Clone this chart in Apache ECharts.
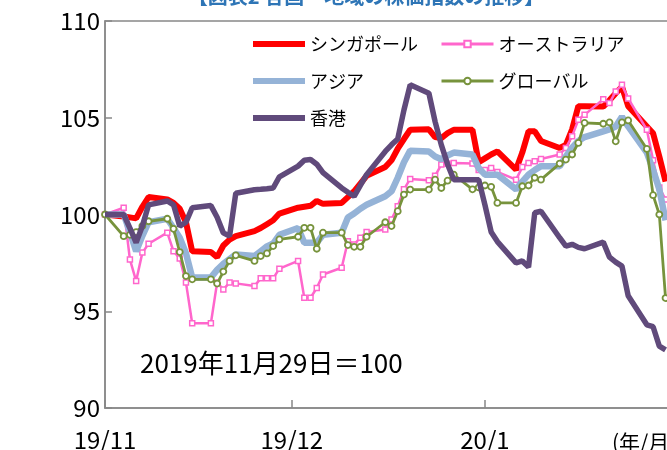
<!DOCTYPE html>
<html>
<head>
<meta charset="utf-8">
<script src="https://cdn.jsdelivr.net/npm/echarts@6/dist/echarts.min.js"></script>
<style>
html,body{margin:0;padding:0;background:#fff;}
#chart{width:667px;height:450px;}
</style>
</head>
<body>
<div id="chart"></div>
<script>
const dates = ['2019-11-29','2019-12-02','2019-12-03','2019-12-04','2019-12-05','2019-12-06','2019-12-09','2019-12-10','2019-12-11','2019-12-12','2019-12-13','2019-12-16','2019-12-17','2019-12-18','2019-12-19','2019-12-20','2019-12-23','2019-12-24','2019-12-25','2019-12-26','2019-12-27','2019-12-30','2019-12-31','2020-01-01','2020-01-02','2020-01-03','2020-01-06','2020-01-07','2020-01-08','2020-01-09','2020-01-10','2020-01-13','2020-01-14','2020-01-15','2020-01-16','2020-01-17','2020-01-20','2020-01-21','2020-01-22','2020-01-23','2020-01-24','2020-01-27','2020-01-28','2020-01-29','2020-01-30','2020-01-31','2020-02-03','2020-02-04','2020-02-05','2020-02-06','2020-02-07','2020-02-10','2020-02-11','2020-02-12','2020-02-13','2020-02-14','2020-02-17','2020-02-18','2020-02-19','2020-02-20','2020-02-21','2020-02-24','2020-02-25','2020-02-26','2020-02-27'];

const singapore = [100,99.9,99.85,99.8,100.4,100.9,100.78,100.6,100.3,99.6,98.1,98.06,97.8,98.4,98.7,98.88,99.14,99.3,99.5,99.7,100.05,100.35,100.4,100.45,100.7,100.55,100.6,100.9,101.2,101.6,102.0,102.45,102.8,103.4,103.9,104.38,104.4,104.0,103.95,104.2,104.38,104.38,102.7,102.9,103.1,103.26,102.32,103.2,104.3,104.3,103.8,103.44,103.6,104.4,105.6,105.6,105.58,105.9,106.27,106.6,105.6,104.55,104.2,103.0,101.7];

const australia = [100,100.35,97.68,96.56,98.03,98.49,99.06,98.1,97.73,96.48,94.38,94.38,96.48,96.13,96.48,96.44,96.3,96.7,96.7,96.7,97.2,97.6,95.7,95.7,96.2,96.9,97.25,98.62,98.45,98.8,99.09,99.23,99.74,100.43,101.3,101.84,101.77,102.0,102.58,102.62,102.66,102.63,102.3,102.3,102.4,102.2,101.8,102.45,102.66,102.75,102.87,103.1,103.44,104.05,104.9,105.15,105.96,105.76,106.36,106.7,106.0,104.38,102.8,101.4,100.77];

const asia = [100,100.0,99.1,98.1,98.9,99.6,99.78,99.3,98.8,98.0,96.74,96.74,97.14,97.45,97.7,97.94,97.85,98.1,98.35,98.5,98.95,99.3,98.54,98.54,98.54,98.95,99.06,99.85,100.05,100.3,100.5,100.94,101.2,101.9,102.7,103.3,103.26,103.0,102.86,103.05,103.2,103.1,102.4,102.06,102.06,102.06,101.3,101.7,102.06,102.3,102.5,102.49,103.0,103.45,103.8,104.0,104.3,104.4,104.55,105.05,104.55,103.2,102.3,101.3,99.7];

const globalIdx = [100,98.88,98.95,99.09,99.4,99.65,99.78,99.26,98.06,96.82,96.65,96.65,96.43,97.05,97.6,97.89,97.6,97.85,97.99,98.37,98.71,98.85,99.31,99.31,98.23,99.06,99.06,98.42,98.33,98.33,98.85,99.6,99.4,100.17,101.03,101.29,101.29,101.8,101.37,101.75,102.06,101.3,101.4,101.5,101.43,100.6,100.6,101.46,101.5,101.9,101.8,102.63,102.84,103.1,103.7,104.73,104.69,104.76,103.78,104.76,104.86,103.39,101.0,100.0,95.68];

const hongkong = [100,100,99.3,98.55,99.4,100.5,100.7,100.5,99.4,99.6,100.35,100.46,99.86,99.05,98.88,101.1,101.28,101.3,101.33,101.37,101.95,102.5,102.8,102.84,102.6,102.16,101.37,101.15,100.94,101.5,102.06,103.26,103.6,103.9,105.4,106.7,106.27,104.8,103.6,102.6,101.8,101.8,101.8,100.5,99.1,98.6,97.5,97.6,97.28,100.09,100.17,98.8,98.37,98.46,98.3,98.23,98.57,97.8,97.54,97.33,95.8,94.3,94.2,93.2,93.0];

const seriesNames = ['シンガポール','オーストラリア','アジア','グローバル','香港'];
const xTickDates = ['2019-11-29','2019-12-29','2020-01-29'];
const xTickLabels = ['19/11','19/12','20/1'];
const yMin = 90, yMax = 110, yStep = 5;
const xEndDate = '2020-02-29';
const titleText = '【図表2 各国・地域の株価指数の推移】';
const noteText = '2019年11月29日＝100';
const unitText = '(年/月)';

const FONT = '"Noto Sans CJK JP", "Noto Sans", sans-serif';
function day(s){ const p = s.split('-').map(Number); return (Date.UTC(p[0],p[1]-1,p[2]) - Date.UTC(2019,10,29)) / 86400000; }
const pairs = arr => arr.map((v,i) => [day(dates[i]), v]);
const tickDays = xTickDates.map(day);

const chart = echarts.init(document.getElementById('chart'), null, {renderer:'canvas'});
const legendText = {fontSize:18, fontFamily:FONT, color:'#000', lineHeight:20};
const plainItem = (n, c, w) => ({name:n, itemStyle:{opacity:0}, lineStyle:{color:c, width:w}});
const markItem = (n, c, w) => ({name:n, lineStyle:{color:c, width:w}});
chart.setOption({
  animation:false,
  backgroundColor:'#fff',
  grid:{left:105, top:21, right:-11, bottom:42, show:true, borderColor:'#888', borderWidth:1.5, containLabel:false, outerBoundsMode:'none'},
  legend:[
    {left:245, top:29, orient:'vertical', itemWidth:52, itemHeight:8, itemGap:17,
      data:[plainItem(seriesNames[0],'#FF0000',6), plainItem(seriesNames[2],'#95B3D7',6), plainItem(seriesNames[4],'#604A7B',6)], textStyle:legendText},
    {left:435, top:29, orient:'vertical', itemWidth:52, itemHeight:8, itemGap:17,
      data:[markItem(seriesNames[1],'#FF66CC',3), markItem(seriesNames[3],'#77933C',3)], textStyle:legendText}
  ],
  xAxis:{
    type:'value', min:0, max:day(xEndDate),
    splitLine:{show:false},
    axisLine:{show:true, lineStyle:{color:'#888', width:1.5}},
    axisTick:{show:true, inside:true, length:8, customValues:tickDays, lineStyle:{color:'#888', width:1.5}},
    axisLabel:{customValues:tickDays, fontSize:24, fontFamily:FONT, color:'#000', margin:20,
      formatter:(v)=>{ const i = tickDays.indexOf(v); return i>=0 ? xTickLabels[i] : ''; }}
  },
  yAxis:{
    type:'value', min:yMin, max:yMax, interval:yStep,
    splitLine:{show:false},
    axisLine:{show:true, lineStyle:{color:'#888', width:1.5}},
    axisTick:{show:true, inside:true, length:7, lineStyle:{color:'#888', width:1.5}},
    axisLabel:{fontSize:24, fontFamily:FONT, color:'#000', margin:5}
  },
  series:[
    {name:seriesNames[0], type:'line', data:pairs(singapore), symbol:'none', lineStyle:{color:'#FF0000', width:6}, itemStyle:{color:'#FF0000'}, z:2},
    {name:seriesNames[1], type:'line', data:pairs(australia), symbol:'rect', symbolSize:5, showAllSymbol:true,
      lineStyle:{color:'#FF66CC', width:2.5}, itemStyle:{color:'#fff', borderColor:'#FF66CC', borderWidth:1.5}, z:3},
    {name:seriesNames[2], type:'line', data:pairs(asia), symbol:'none', lineStyle:{color:'#95B3D7', width:6.5}, itemStyle:{color:'#95B3D7'}, z:4},
    {name:seriesNames[3], type:'line', data:pairs(globalIdx), symbol:'circle', symbolSize:6, showAllSymbol:true,
      lineStyle:{color:'#77933C', width:2.8}, itemStyle:{color:'#fff', borderColor:'#77933C', borderWidth:1.8}, z:5},
    {name:seriesNames[4], type:'line', data:pairs(hongkong), symbol:'none', lineStyle:{color:'#604A7B', width:5.5}, itemStyle:{color:'#604A7B'}, z:6}
  ],
  graphic:[
    {type:'text', x:366, y:6, style:{text:titleText, fill:'#2E75B6', font:'bold 20px '+FONT, textAlign:'center', textVerticalAlign:'bottom'}},
    {type:'text', x:140, y:363, style:{text:noteText, fill:'#000', font:'26px '+FONT, textAlign:'left', textVerticalAlign:'middle'}},
    {type:'text', x:612, y:442, style:{text:unitText, fill:'#000', font:'21px '+FONT, textAlign:'left', textVerticalAlign:'middle'}}
  ]
});
</script>
</body>
</html>
